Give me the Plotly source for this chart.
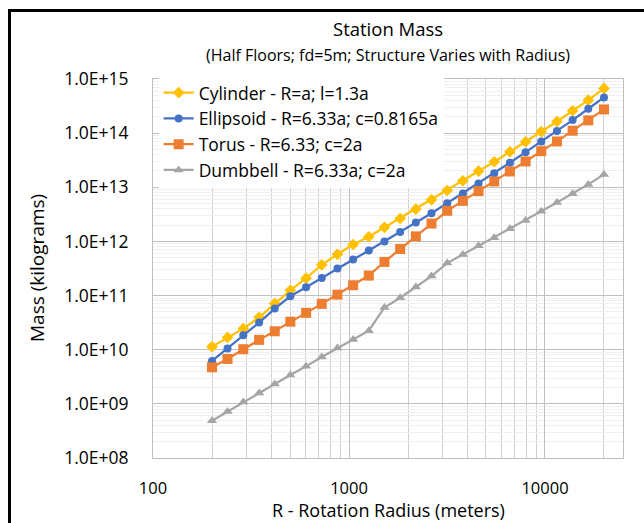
import plotly.graph_objects as go

# ---- data ----
radius_m = [200, 240, 289, 348, 418, 502, 604, 726, 873, 1050, 1262, 1517, 1824,
            2193, 2636, 3170, 3811, 4581, 5508, 6622, 7962, 9572, 11508, 13836, 16634, 20000]

cylinder = [1.14e10, 1.69e10, 2.45e10, 3.97e10, 7.11e10, 1.25e11, 2.09e11, 3.69e11, 5.79e11,
            8.77e11, 1.22e12, 1.82e12, 2.65e12, 3.94e12, 5.87e12, 8.73e12, 1.32e13, 1.99e13,
            2.96e13, 4.53e13, 6.93e13, 1.07e14, 1.64e14, 2.59e14, 4.07e14, 6.70e14]

ellipsoid = [6.21e9, 1.05e10, 1.85e10, 3.17e10, 5.75e10, 9.70e10, 1.42e11, 2.12e11, 3.16e11,
             4.62e11, 6.79e11, 1.00e12, 1.49e12, 2.24e12, 3.32e12, 5.08e12, 7.67e12, 1.17e13,
             1.82e13, 2.84e13, 4.46e13, 7.03e13, 1.09e14, 1.74e14, 2.82e14, 4.57e14]

torus = [4.73e9, 6.76e9, 1.02e10, 1.52e10, 2.19e10, 3.30e10, 4.79e10, 7.03e10, 1.04e11,
         1.55e11, 2.34e11, 4.19e11, 7.24e11, 1.24e12, 2.14e12, 3.68e12, 5.62e12, 8.47e12,
         1.28e13, 1.96e13, 3.00e13, 4.65e13, 7.03e13, 1.11e14, 1.72e14, 2.74e14]

dumbbell = [4.89e8, 7.26e8, 1.08e9, 1.59e9, 2.33e9, 3.42e9, 4.93e9, 7.36e9, 1.08e10,
            1.54e10, 2.25e10, 6.03e10, 9.12e10, 1.44e11, 2.29e11, 3.98e11, 5.73e11, 8.30e11,
            1.17e12, 1.71e12, 2.43e12, 3.61e12, 5.24e12, 7.59e12, 1.13e13, 1.73e13]

series_names = ["Cylinder - R=a; l=1.3a",
                "Ellipsoid - R=6.33a; c=0.8165a",
                "Torus - R=6.33; c=2a",
                "Dumbbell - R=6.33a; c=2a"]

y_tickvals = [1e8, 1e9, 1e10, 1e11, 1e12, 1e13, 1e14, 1e15]
y_ticktext = ["1.0E+08", "1.0E+09", "1.0E+10", "1.0E+11", "1.0E+12", "1.0E+13", "1.0E+14", "1.0E+15"]
x_tickvals = [100, 1000, 10000]
x_ticktext = ["100", "1000", "10000"]
x_minor_vals = [200, 300, 400, 500, 600, 700, 800, 900,
                2000, 3000, 4000, 5000, 6000, 7000, 8000, 9000, 20000]

# ---- styling ----
FONT = "Open Sans"
colors = ["#FFC000", "#4472C4", "#ED7D31", "#A5A5A5"]
symbols = ["diamond", "circle", "square", "triangle-up"]
sizes = [9, 8, 10, 9]

fig = go.Figure()
for name, vals, c, s, sz in zip(series_names, [cylinder, ellipsoid, torus, dumbbell],
                                colors, symbols, sizes):
    fig.add_trace(go.Scatter(
        x=radius_m, y=vals, name=name, mode="lines+markers",
        line=dict(color=c, width=2.25),
        marker=dict(symbol=s, size=sz, color=c, line=dict(width=0)),
    ))

W, H = 644, 523
L, R, T, B = 153, 623, 79, 458

fig.update_layout(
    width=W, height=H,
    margin=dict(l=L, r=W - R, t=T, b=H - B),
    paper_bgcolor="white", plot_bgcolor="white",
    font=dict(family=FONT, color="#000000", size=15),
    showlegend=True,
    legend=dict(
        x=0.012, y=1.011, xanchor="left", yanchor="top",
        bgcolor="white", borderwidth=0,
        font=dict(family=FONT, size=17.5, color="#000000"),
        tracegroupgap=0, itemwidth=30,
    ),
    annotations=[
        dict(text="Station Mass", x=0.5, y=(B - 29) / (B - T), xref="paper", yref="paper",
             showarrow=False, font=dict(family=FONT, size=18.5, color="#000000"),
             xanchor="center", yanchor="middle"),
        dict(text="(Half Floors; fd=5m; Structure Varies with Radius)", x=0.5,
             y=(B - 55) / (B - T), xref="paper", yref="paper", showarrow=False,
             font=dict(family=FONT, size=16, color="#000000"),
             xanchor="center", yanchor="middle"),
        dict(text="Mass (kilograms)", x=(37 - L) / (R - L), y=(B - 268) / (B - T),
             xref="paper", yref="paper", showarrow=False, textangle=-90,
             font=dict(family=FONT, size=19, color="#000000"),
             xanchor="center", yanchor="middle"),
        dict(text="R - Rotation Radius (meters)", x=0.5, y=(B - 510) / (B - T),
             xref="paper", yref="paper", showarrow=False,
             font=dict(family=FONT, size=18, color="#000000"),
             xanchor="center", yanchor="middle"),
    ],
    shapes=[
        dict(type="rect", xref="paper", yref="paper",
             x0=(9.5 - L) / (R - L), x1=(660 - L) / (R - L),
             y0=(B - 540) / (B - T), y1=(B - 10.5) / (B - T),
             line=dict(color="black", width=3), fillcolor="rgba(0,0,0,0)", layer="above"),
    ],
)

fig.update_xaxes(
    type="log", range=[2, 4.398],
    tickvals=x_tickvals, ticktext=x_ticktext,
    showgrid=True, gridcolor="#BFBFBF", gridwidth=1,
    minor=dict(tickvals=x_minor_vals, showgrid=True, gridcolor="#CFCFCF", gridwidth=1),
    showline=True, linecolor="#BFBFBF", linewidth=1, mirror=True,
    ticks="", ticklabelstandoff=15,
    tickfont=dict(family=FONT, size=16.5, color="#000000"),
    zeroline=False,
)
fig.update_yaxes(
    type="log", range=[8, 15],
    tickvals=y_tickvals, ticktext=y_ticktext,
    showgrid=True, gridcolor="#BFBFBF", gridwidth=1,
    minor=dict(dtick="D1", showgrid=True, gridcolor="#EFEFEF", gridwidth=1),
    showline=True, linecolor="#BFBFBF", linewidth=1, mirror=True,
    ticks="", ticklabelstandoff=20,
    tickfont=dict(family=FONT, size=17.5, color="#000000"),
    zeroline=False,
)

fig.write_html("out.html")
